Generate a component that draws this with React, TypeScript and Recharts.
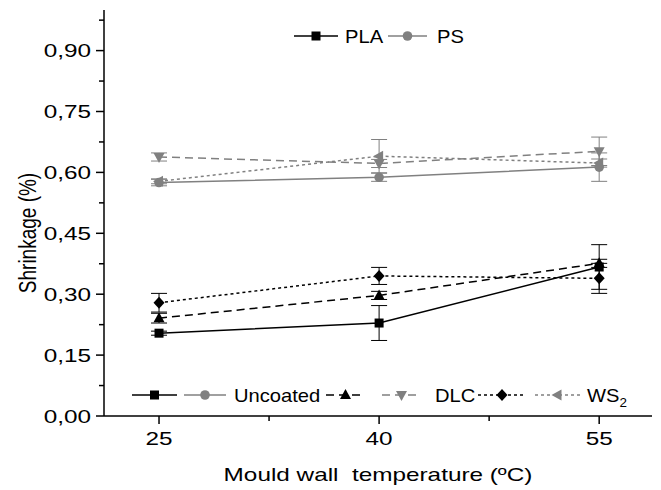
import React from 'react';
import { LineChart, Line, XAxis, YAxis, ErrorBar } from 'recharts';

// mould wall temperature (ºC)
const temperatures = [25, 40, 55];

// shrinkage (%)
const plaUncoated = [0.204, 0.229, 0.367];
const plaUncoatedErr = [0.005, 0.043, 0.055];
const plaDlc = [0.241, 0.297, 0.376];
const plaDlcErr = [0.012, 0.01, 0.01];
const plaWs2 = [0.279, 0.345, 0.339];
const plaWs2Err = [0.023, 0.021, 0.037];

const psUncoated = [0.575, 0.588, 0.613];
const psUncoatedErr = [0.008, 0.01, 0.035];
const psDlc = [0.638, 0.622, 0.652];
const psDlcErr = [0.01, 0.01, 0.035];
const psWs2 = [0.578, 0.64, 0.623];
const psWs2Err = [0.006, 0.041, 0.01];

const xTicks = [25, 32.5, 40, 47.5, 55];
const xMajor = [25, 40, 55];
const yTicks = [0, 0.075, 0.15, 0.225, 0.3, 0.375, 0.45, 0.525, 0.6, 0.675, 0.75, 0.825, 0.9, 0.975];

const data = temperatures.map((t, i) => ({
  t,
  plaUncoated: plaUncoated[i],
  plaUncoatedErr: plaUncoatedErr[i],
  plaDlc: plaDlc[i],
  plaDlcErr: plaDlcErr[i],
  plaWs2: plaWs2[i],
  plaWs2Err: plaWs2Err[i],
  psUncoated: psUncoated[i],
  psUncoatedErr: psUncoatedErr[i],
  psDlc: psDlc[i],
  psDlcErr: psDlcErr[i],
  psWs2: psWs2[i],
  psWs2Err: psWs2Err[i],
}));

const BLACK = '#000000';
const GREY = '#808080';
const FONT = '"Liberation Sans", Arial, sans-serif';
const FS = 19;
const SX = 1.28; // axis text in the reference is stretched sideways
const SX_LEGEND = 1.12;
const SOLID = undefined;
const DASHED = '8 5';
const DOTTED = '3 3';

type Shape = 'square' | 'circle' | 'up' | 'down' | 'diamond' | 'left';

const series: { key: string; shape: Shape; color: string; dash?: string }[] = [
  { key: 'psUncoated', shape: 'circle', color: GREY, dash: SOLID },
  { key: 'psDlc', shape: 'down', color: GREY, dash: DASHED },
  { key: 'psWs2', shape: 'left', color: GREY, dash: DOTTED },
  { key: 'plaUncoated', shape: 'square', color: BLACK, dash: SOLID },
  { key: 'plaDlc', shape: 'up', color: BLACK, dash: DASHED },
  { key: 'plaWs2', shape: 'diamond', color: BLACK, dash: DOTTED },
];

const Marker = ({ shape, cx, cy, color }: { shape: Shape; cx: number; cy: number; color: string }) => {
  if (cx == null || cy == null) return null;
  switch (shape) {
    case 'square':
      return <rect x={cx - 4.5} y={cy - 4.5} width={9} height={9} fill={color} />;
    case 'circle':
      return <circle cx={cx} cy={cy} r={4.8} fill={color} />;
    case 'up':
      return <polygon points={`${cx},${cy - 6} ${cx + 5.5},${cy + 4} ${cx - 5.5},${cy + 4}`} fill={color} />;
    case 'down':
      return <polygon points={`${cx},${cy + 6} ${cx + 5.5},${cy - 4} ${cx - 5.5},${cy - 4}`} fill={color} />;
    case 'diamond':
      return <polygon points={`${cx},${cy - 6} ${cx + 5.5},${cy} ${cx},${cy + 6} ${cx - 5.5},${cy}`} fill={color} />;
    case 'left':
      return <polygon points={`${cx - 6},${cy} ${cx + 4},${cy - 5.5} ${cx + 4},${cy + 5.5}`} fill={color} />;
  }
  return null;
};

const fmtY = (v: number) => v.toFixed(2).replace('.', ',');

const BottomTick = (props: any) => {
  const { x, y, payload } = props;
  const major = xMajor.includes(payload.value);
  return (
    <g>
      <line x1={x} y1={y} x2={x} y2={y + (major ? 8 : 5)} stroke={BLACK} strokeWidth={1.5} />
      {major && (
        <text transform={`translate(${x},${y + 29}) scale(${SX},1)`} textAnchor="middle" fontSize={FS} fontFamily={FONT} fill={BLACK}>
          {payload.value}
        </text>
      )}
    </g>
  );
};

const TopTick = (props: any) => {
  const { x, y, payload } = props;
  const major = xMajor.includes(payload.value);
  return <line x1={x} y1={y} x2={x} y2={y + (major ? 8 : 5)} stroke={BLACK} strokeWidth={1.5} />;
};

const LeftTick = (props: any) => {
  const { x, y, payload, index } = props;
  const major = index % 2 === 0;
  return (
    <g>
      <line x1={x - (major ? 8 : 5)} y1={y} x2={x} y2={y} stroke={BLACK} strokeWidth={1.5} />
      {major && (
        <text transform={`translate(${x - 13},${y + 6.5}) scale(${SX},1)`} textAnchor="end" fontSize={FS} fontFamily={FONT} fill={BLACK}>
          {fmtY(payload.value)}
        </text>
      )}
    </g>
  );
};

const RightTick = (props: any) => {
  const { x, y, index } = props;
  const major = index % 2 === 0;
  return <line x1={x - (major ? 8 : 5)} y1={y} x2={x} y2={y} stroke={BLACK} strokeWidth={1.5} />;
};

const LegendSample = ({ x1, x2, y, color, dash, shape }: { x1: number; x2: number; y: number; color: string; dash?: string; shape: Shape }) => (
  <g>
    <line x1={x1} y1={y} x2={x2} y2={y} stroke={color} strokeWidth={1.5} strokeDasharray={dash} />
    <Marker shape={shape} cx={(x1 + x2) / 2} cy={y} color={color} />
  </g>
);

const LegendText = ({ x, y, children }: { x: number; y: number; children: React.ReactNode }) => (
  <text transform={`translate(${x},${y + 6.5}) scale(${SX_LEGEND},1)`} fontSize={18} fontFamily={FONT} fill={BLACK}>
    {children}
  </text>
);

export default function App() {
  return (
    <div style={{ position: 'absolute', left: 0, top: 0, width: 661, height: 490, background: '#fff' }}>
      <LineChart width={661} height={490} data={data} margin={{ top: 10, right: 9, left: 0, bottom: 0 }}>
        <XAxis
          xAxisId="b"
          dataKey="t"
          type="number"
          domain={[21.25, 58.6]}
          ticks={xTicks}
          interval={0}
          height={74}
          tickSize={0}
          tickMargin={0}
          tickLine={false}
          tick={<BottomTick />}
          axisLine={{ stroke: BLACK, strokeWidth: 1.5 }}
          allowDataOverflow
        />
        <XAxis
          xAxisId="t"
          orientation="top"
          dataKey="t"
          type="number"
          domain={[21.25, 58.6]}
          ticks={xTicks}
          interval={0}
          height={0}
          tickSize={0}
          tickMargin={0}
          tickLine={false}
          tick={<TopTick />}
          axisLine={{ stroke: BLACK, strokeWidth: 1.5 }}
          allowDataOverflow
        />
        <YAxis
          yAxisId="l"
          type="number"
          domain={[0, 1.0]}
          ticks={yTicks}
          interval={0}
          width={104}
          tickSize={0}
          tickMargin={0}
          tickLine={false}
          tick={<LeftTick />}
          axisLine={{ stroke: BLACK, strokeWidth: 1.5 }}
          allowDataOverflow
        />
        <YAxis
          yAxisId="r"
          orientation="right"
          type="number"
          domain={[0, 1.0]}
          ticks={yTicks}
          interval={0}
          width={0}
          tickSize={0}
          tickMargin={0}
          tickLine={false}
          tick={<RightTick />}
          axisLine={{ stroke: BLACK, strokeWidth: 1.5 }}
          allowDataOverflow
        />
        {series.map((s) => (
          <Line
            key={s.key}
            xAxisId="b"
            yAxisId="l"
            dataKey={s.key}
            stroke={s.color}
            strokeWidth={1.5}
            strokeDasharray={s.dash}
            isAnimationActive={false}
            activeDot={false}
            dot={(p: any) => <Marker key={`${s.key}-${p.index}`} shape={s.shape} cx={p.cx} cy={p.cy} color={s.color} />}
          >
            <ErrorBar dataKey={`${s.key}Err`} direction="y" width={8} stroke={s.color} strokeWidth={1} isAnimationActive={false} />
          </Line>
        ))}
      </LineChart>

      <svg width={661} height={490} style={{ position: 'absolute', left: 0, top: 0, pointerEvents: 'none' }}>
        {/* top legend */}
        <LegendSample x1={294} x2={338} y={36} color={BLACK} shape="square" />
        <LegendText x={345} y={36}>PLA</LegendText>
        <LegendSample x1={388} x2={427} y={36} color={GREY} shape="circle" />
        <LegendText x={437} y={36}>PS</LegendText>

        {/* bottom legend */}
        <LegendSample x1={132} x2={177} y={395} color={BLACK} shape="square" />
        <LegendSample x1={184} x2={226} y={395} color={GREY} shape="circle" />
        <LegendText x={234} y={395}>Uncoated</LegendText>
        <LegendSample x1={326} x2={365} y={395} color={BLACK} shape="up" dash={DASHED} />
        <LegendSample x1={382} x2={421} y={395} color={GREY} shape="down" dash={DASHED} />
        <LegendText x={435} y={395}>DLC</LegendText>
        <LegendSample x1={478} x2={526} y={395} color={BLACK} shape="diamond" dash={DOTTED} />
        <LegendSample x1={535} x2={580} y={395} color={GREY} shape="left" dash={DOTTED} />
        <LegendText x={587} y={395}>
          WS<tspan dy={5} fontSize={12}>2</tspan>
        </LegendText>

        {/* axis titles */}
        <text transform={`translate(378,481) scale(${SX},1)`} textAnchor="middle" fontSize={FS} fontFamily={FONT} fill={BLACK} style={{ whiteSpace: 'pre' }}>
          Mould wall  temperature (ºC)
        </text>
        <text transform={`translate(36,233) scale(${SX},1) rotate(-90)`} textAnchor="middle" fontSize={FS} fontFamily={FONT} fill={BLACK}>
          Shrinkage (%)
        </text>
      </svg>
    </div>
  );
}
